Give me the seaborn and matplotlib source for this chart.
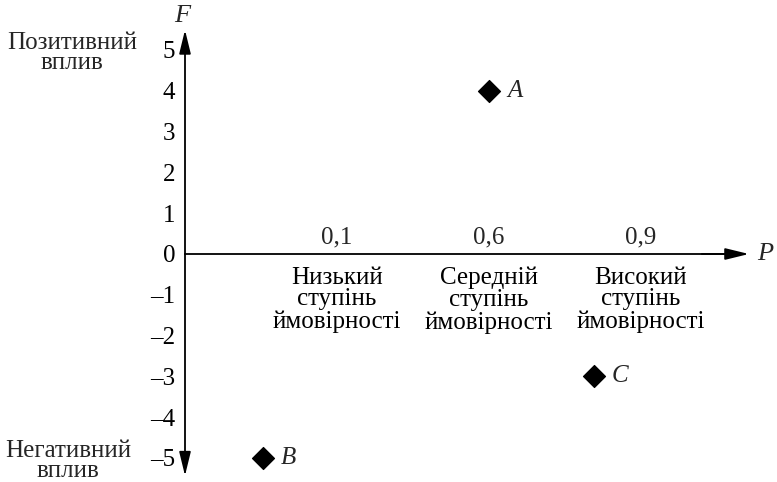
import matplotlib
matplotlib.use("Agg")
import matplotlib.pyplot as plt
import seaborn as sns
import pandas as pd

# data
point_names = ["A", "B", "C"]
point_x = [2.0, 0.51, 2.69]
point_f = [4, -5, -3]

p_positions = [1, 2, 3]
p_labels = ["0,1", "0,6", "0,9"]
level_labels = ["Низький\nступінь\nймовірності",
                "Середній\nступінь\nймовірності",
                "Високий\nступінь\nймовірності"]
f_ticks = list(range(-5, 6))

df = pd.DataFrame({"name": point_names, "P": point_x, "F": point_f})

sns.set_style("white")
plt.rcParams["font.family"] = ["Liberation Serif", "DejaVu Serif"]

fig = plt.figure(figsize=(7.77, 4.82), dpi=100)
ax = fig.add_axes([0, 0, 1, 1])

# pixel -> data mapping: origin at (185, 254), 152 px per P step, 40.8 px per F unit
px_x, px_y = 152.0, 40.8
ax.set_xlim(-185 / px_x, (777 - 185) / px_x)
ax.set_ylim(-(482 - 254) / px_y, 254 / px_y)
ax.patch.set_alpha(0)

sns.scatterplot(data=df, x="P", y="F", marker="D", s=125, color="black",
                edgecolor="black", ax=ax, legend=False, zorder=5)
for _, r in df.iterrows():
    ax.annotate(r["name"], (r["P"], r["F"]), xytext=(13, 0),
                textcoords="offset points", va="center", ha="left",
                fontsize=18, style="italic")

# axes through the origin
for s in ["top", "right"]:
    ax.spines[s].set_visible(False)
ax.spines["left"].set_position(("data", 0))
ax.spines["bottom"].set_position(("data", 0))
ax.spines["left"].set_bounds(-5.35, 5.3)
ax.spines["bottom"].set_bounds(0, 3.6)
for s in ["left", "bottom"]:
    ax.spines[s].set_linewidth(1.3)
    ax.spines[s].set_color("black")

ax.set_yticks(f_ticks)
ax.set_yticklabels([str(t).replace("-", "\u2013") for t in f_ticks])
ax.set_xticks(p_positions)
ax.set_xticklabels(level_labels, linespacing=1.0)
ax.tick_params(axis="both", direction="out", length=6, width=1.2,
               labelsize=18, color="black", labelcolor="black")
ax.tick_params(axis="y", pad=1)
ax.tick_params(axis="x", pad=3)
ax.set_xlabel("")
ax.set_ylabel("")

for pos, lab in zip(p_positions, p_labels):
    ax.annotate(lab, (pos, 0), xytext=(0, 4), textcoords="offset points",
                ha="center", va="bottom", fontsize=18)

arrow = dict(arrowstyle="-|>,head_length=0.9,head_width=0.22",
             color="black", lw=1.3, mutation_scale=16, shrinkA=0, shrinkB=0)
ax.annotate("", xy=(0, 5.49), xytext=(0, 5.0), arrowprops=arrow)
ax.annotate("", xy=(0, -5.43), xytext=(0, -5.0), arrowprops=arrow)
ax.annotate("", xy=(3.71, 0), xytext=(3.4, 0), arrowprops=arrow)

ax.annotate("F", (0, 5.49), xytext=(-2, 2), textcoords="offset points",
            ha="center", va="bottom", fontsize=19, style="italic")
ax.annotate("P", (3.71, 0), xytext=(6, 0), textcoords="offset points",
            ha="left", va="center", fontsize=19, style="italic")

ax.text(72 / 777, 1 - 53 / 482, "Позитивний\nвплив", transform=fig.transFigure,
        ha="center", va="center", fontsize=18, linespacing=0.92)
ax.text(68 / 777, 1 - 461 / 482, "Негативний\nвплив", transform=fig.transFigure,
        ha="center", va="center", fontsize=18, linespacing=0.92)

fig.savefig("out.png", dpi=100, facecolor="white")
